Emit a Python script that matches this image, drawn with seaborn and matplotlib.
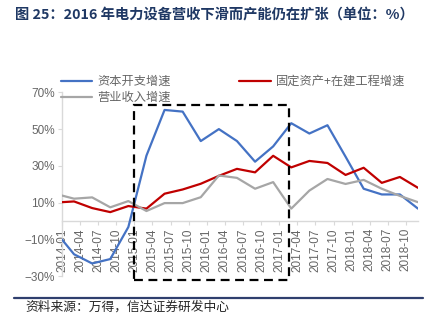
import matplotlib
matplotlib.use("Agg")
import matplotlib.pyplot as plt
import seaborn as sns
import pandas as pd
from matplotlib.patches import Rectangle
from matplotlib.lines import Line2D

# ---- data ----
dates = ["2014-01", "2014-03", "2014-06", "2014-09", "2014-12",
         "2015-03", "2015-06", "2015-09", "2015-12",
         "2016-03", "2016-06", "2016-09", "2016-12",
         "2017-03", "2017-06", "2017-09", "2017-12",
         "2018-03", "2018-06", "2018-09", "2018-12"]
capex = [-10, -18, -23, -20.6, -3.2, 35.6, 60.4, 59.5, 43.5, 50, 43.5,
         32.3, 40.6, 53.2, 47.6, 52.1, 35, 17.6, 14.5, 14.5, 6.8]
fixed_assets = [10.3, 10.7, 7.1, 4.9, 8.2, 6.8, 14.9, 17.2, 20.3, 24.6, 28.4,
                26.5, 35.5, 29.2, 32.7, 31.6, 25.1, 29, 20.8, 24, 18.1]
revenue = [13.9, 12.2, 12.9, 7.5, 10.9, 5.5, 9.8, 9.8, 13, 24.8, 23.5,
           17.6, 21.2, 6.8, 16.6, 22.9, 20.2, 22.4, 17.6, 13.7, 10.3]
series_names = ["资本开支增速", "固定资产+在建工程增速", "营业收入增速"]
series_colors = ["#4472C4", "#C00000", "#A6A6A6"]
tick_labels = ["2014-01", "2014-04", "2014-07", "2014-10",
               "2015-01", "2015-04", "2015-07", "2015-10",
               "2016-01", "2016-04", "2016-07", "2016-10",
               "2017-01", "2017-04", "2017-07", "2017-10",
               "2018-01", "2018-04", "2018-07", "2018-10"]
y_ticks = [-30, -10, 10, 30, 50, 70]
title = "图 25：2016 年电力设备营收下滑而产能仍在扩张（单位：%）"
source = "资料来源：万得，信达证券研发中心"

def month_index(s):
    y, m = s.split("-")
    return (int(y) - 2014) * 12 + int(m) - 1

rows = []
for name, vals in zip(series_names, [capex, fixed_assets, revenue]):
    for d, v in zip(dates, vals):
        rows.append({"month": month_index(d), "value": v, "series": name})
df = pd.DataFrame(rows)

sns.set_theme(style="white")
plt.rcParams["font.family"] = ["Liberation Sans", "Noto Sans CJK SC", "DejaVu Sans"]

fig = plt.figure(figsize=(4.39, 3.29), dpi=100)
ax = fig.add_axes([0.1412, 0.160, 0.8109, 0.5595])

sns.lineplot(data=df, x="month", y="value", hue="series",
             hue_order=series_names, palette=series_colors,
             linewidth=1.6, ax=ax, legend=False, zorder=3)

ax.set_xlim(0, month_index("2018-12"))
ax.set_ylim(-30, 70)
ax.set_yticks(y_ticks)
ax.set_yticklabels([f"{v}%".replace("-", "\u2212") for v in y_ticks])
ax.set_xticks([month_index(t) for t in tick_labels])
ax.set_xticklabels(tick_labels)
ax.set_xlabel("")
ax.set_ylabel("")

for sp in ["top", "right"]:
    ax.spines[sp].set_visible(False)
ax.spines["bottom"].set_position(("data", 0))
for sp in ["bottom", "left"]:
    ax.spines[sp].set_color("#D9D9D9")
    ax.spines[sp].set_linewidth(1.0)
    ax.spines[sp].set_zorder(1)
ax.tick_params(axis="both", which="major", direction="out", length=3,
               width=0.8, color="#D9D9D9", labelcolor="#666666",
               labelsize=8.5, pad=2, bottom=True, left=True)
ax.tick_params(axis="x", labelrotation=90)
ax.grid(False)

# dashed highlight box
box = Rectangle((month_index("2015-01"), -32), 25.6, 95, fill=False,
                edgecolor="black", linewidth=1.6, linestyle=(0, (4, 2.5)),
                clip_on=False, zorder=4)
ax.add_patch(box)

# legend (two columns)
handles = [Line2D([], [], color=series_colors[0], lw=1.6),
           Line2D([], [], color=series_colors[2], lw=1.6),
           Line2D([], [], color=series_colors[1], lw=1.6)]
labels = [series_names[0], series_names[2], series_names[1]]
leg = fig.legend(handles, labels, loc="upper left", ncol=2,
                 bbox_to_anchor=(61 / 439, 1 - 75 / 329), frameon=False,
                 borderpad=0, borderaxespad=0, handlelength=2.54,
                 handletextpad=0.45, columnspacing=5.6, labelspacing=0.25,
                 prop={"family": ["Noto Sans CJK SC"], "size": 8.8})
for t in leg.get_texts():
    t.set_color("#666666")

# title
fig.text(15 / 439, 1 - 15 / 329, title, ha="left", va="center",
         fontsize=10.3, fontweight="bold", color="#1F3864",
         family=["Noto Sans CJK SC", "DejaVu Sans"])

# bottom rule and source
fig.add_artist(Line2D([14 / 439, 423 / 439], [1 - 297.5 / 329, 1 - 297.5 / 329],
                      transform=fig.transFigure, color="#2F3F6E", lw=1.6))
fig.text(25 / 439, 1 - 307 / 329, source, ha="left", va="center",
         fontsize=9.2, color="#262626", style="italic",
         family=["Noto Sans CJK SC", "DejaVu Sans"])

fig.savefig("out.png", dpi=100)
